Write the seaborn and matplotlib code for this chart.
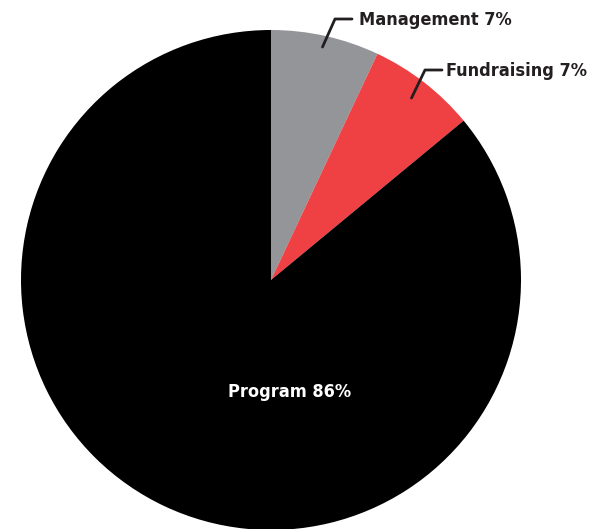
import matplotlib
matplotlib.use("Agg")
import matplotlib.pyplot as plt
import seaborn as sns

# Expense breakdown
labels = ["Management", "Fundraising", "Program"]
shares = [7, 7, 86]
colors = ["#939598", "#ef4044", "#000000"]

sns.set_theme(style="white")
plt.rcParams["font.family"] = ["DejaVu Sans"]

fig = plt.figure(figsize=(5.92, 5.29), dpi=100)
ax = fig.add_axes([0, 0, 1, 1])

H = 529
ax.pie(shares, colors=colors, startangle=90, counterclock=False,
       center=(271, H - 280), radius=250,
       wedgeprops=dict(linewidth=0))

ax.set_xlim(0, 592)
ax.set_ylim(0, H)
ax.set_aspect("equal")
ax.axis("off")

font = dict(fontsize=13, fontweight="bold", fontstretch="condensed",
            color="#231f20")

# leader lines and labels (pixel coords, flipped)
ax.plot([322.5, 335, 352], [H - 47, H - 19, H - 19], color="#231f20", lw=2)
ax.text(359, H - 20, f"{labels[0]} {shares[0]}%", ha="left", va="center", **font)

ax.plot([411.5, 425, 442], [H - 98, H - 70, H - 70], color="#231f20", lw=2)
ax.text(446, H - 71, f"{labels[1]} {shares[1]}%", ha="left", va="center", **font)

ax.text(290, H - 392, f"{labels[2]} {shares[2]}%", ha="center", va="center",
        fontsize=13, fontweight="bold", fontstretch="condensed", color="white")

fig.savefig("out.png", dpi=100)
